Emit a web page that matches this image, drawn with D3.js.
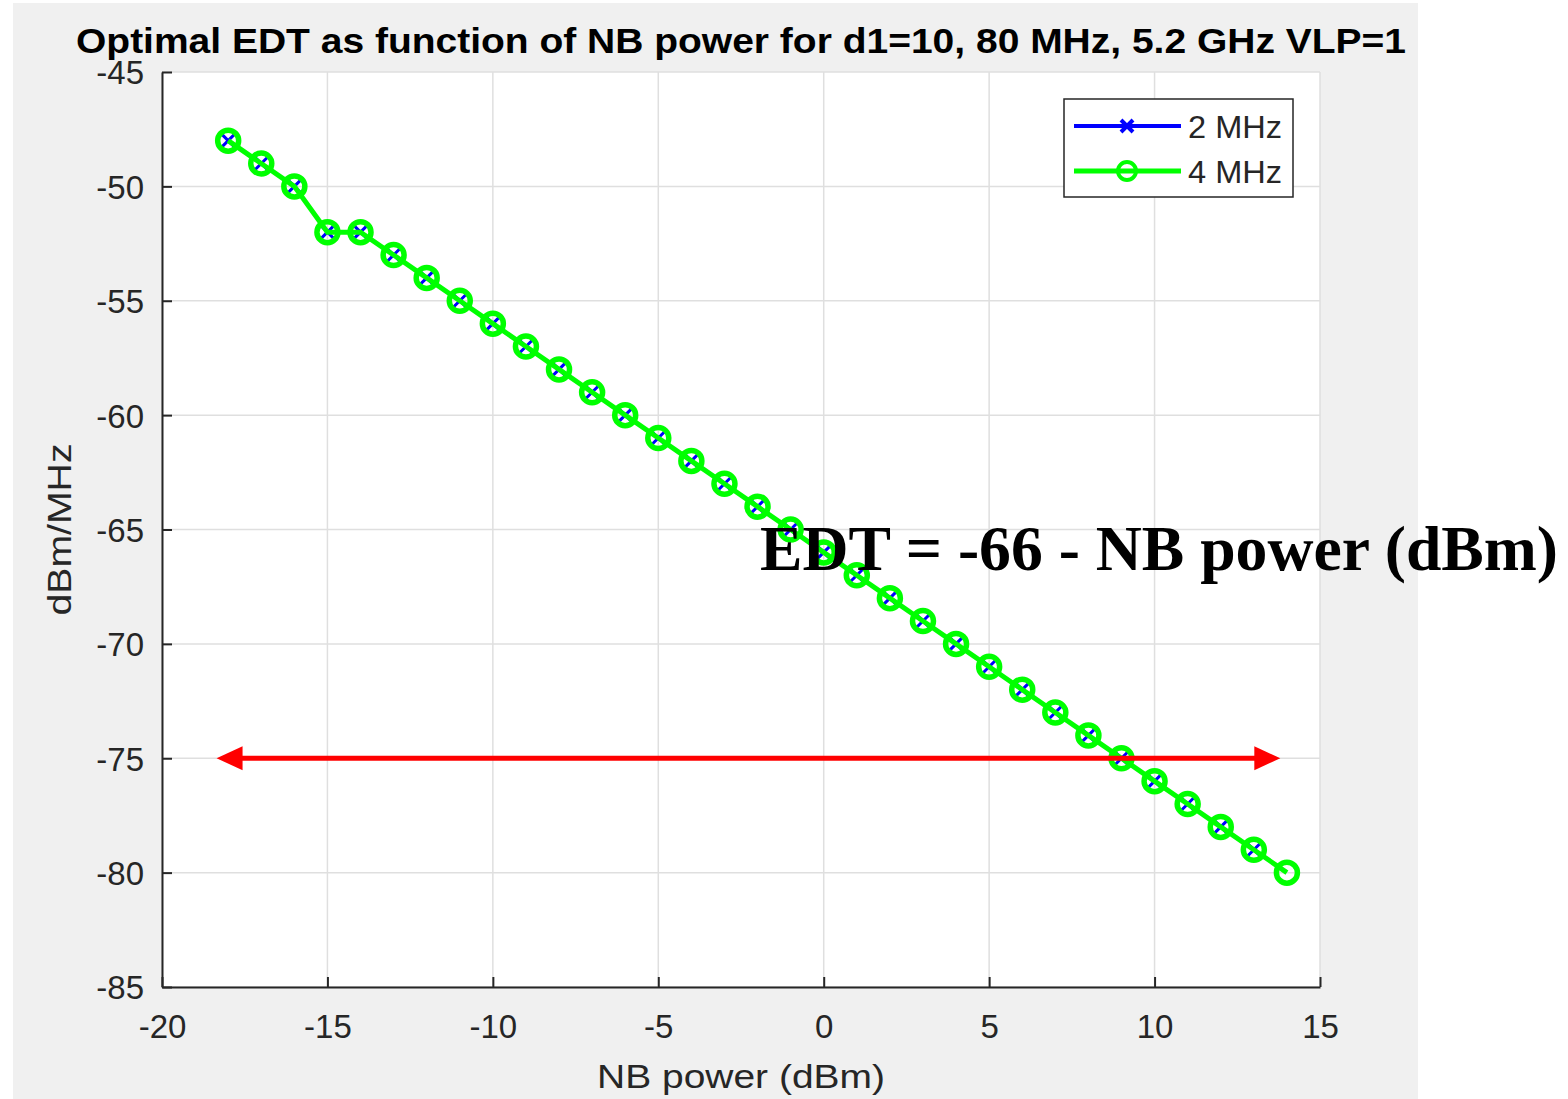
<!DOCTYPE html>
<html>
<head>
<meta charset="utf-8">
<script src="https://cdn.jsdelivr.net/npm/d3@7"></script>
<style>
  html, body { margin: 0; padding: 0; background: #ffffff; }
  svg { display: block; }
</style>
</head>
<body>
<svg id="chart" width="1568" height="1099"></svg>
<script>
// ---- Data ----
const title = "Optimal EDT as function of NB power for d1=10, 80 MHz, 5.2 GHz VLP=1";
const xLabel = "NB power (dBm)";
const yLabel = "dBm/MHz";
const annotationText = "EDT = -66 - NB power (dBm)";

const nbPower2 = [-18,-17,-16,-15,-14,-13,-12,-11,-10,-9,-8,-7,-6,-5,-4,-3,-2,-1,0,1,2,3,4,5,6,7,8,9,10,11,12,13];
const edt2     = [-48,-49,-50,-52,-52,-53,-54,-55,-56,-57,-58,-59,-60,-61,-62,-63,-64,-65,-66,-67,-68,-69,-70,-71,-72,-73,-74,-75,-76,-77,-78,-79];
const nbPower4 = [-18,-17,-16,-15,-14,-13,-12,-11,-10,-9,-8,-7,-6,-5,-4,-3,-2,-1,0,1,2,3,4,5,6,7,8,9,10,11,12,13,14];
const edt4     = [-48,-49,-50,-52,-52,-53,-54,-55,-56,-57,-58,-59,-60,-61,-62,-63,-64,-65,-66,-67,-68,-69,-70,-71,-72,-73,-74,-75,-76,-77,-78,-79,-80];

const xTicks = [-20,-15,-10,-5,0,5,10,15];
const yTicks = [-85,-80,-75,-70,-65,-60,-55,-50,-45];
const seriesNames = ["2 MHz", "4 MHz"];
const arrowX = [-18.35, 13.8];
const arrowY = -75;

// ---- Layout ----
const svg = d3.select("#chart");
const L = 162, R = 1320, T = 72, B = 987;
const axisColor = "#262626";
const font = "'Liberation Sans', Arial, Helvetica, sans-serif";

const x = d3.scaleLinear().domain([-20, 15]).range([L, R]);
const y = d3.scaleLinear().domain([-85, -45]).range([B, T]);

// figure background
svg.append("rect").attr("x", 13).attr("y", 3).attr("width", 1405).attr("height", 1096).attr("fill", "#f0f0f0");
// plot area
svg.append("rect").attr("x", L).attr("y", T).attr("width", R - L).attr("height", B - T).attr("fill", "#ffffff");

// grid
const grid = svg.append("g");
grid.selectAll("line.gx").data(xTicks).enter().append("line")
  .attr("x1", d => x(d)).attr("x2", d => x(d)).attr("y1", T).attr("y2", B)
  .attr("stroke", "#dfdfdf").attr("stroke-width", 1.5);
grid.selectAll("line.gy").data(yTicks).enter().append("line")
  .attr("y1", d => y(d)).attr("y2", d => y(d)).attr("x1", L).attr("x2", R)
  .attr("stroke", "#dfdfdf").attr("stroke-width", 1.5);

// axes
const fmt = d => String(d);
const xAxis = d3.axisBottom(x).tickValues(xTicks).tickSizeInner(-10).tickSizeOuter(0).tickPadding(28).tickFormat(fmt);
const yAxis = d3.axisLeft(y).tickValues(yTicks).tickSizeInner(-10).tickSizeOuter(0).tickPadding(18).tickFormat(fmt);

const gx = svg.append("g").attr("transform", `translate(0,${B})`).call(xAxis);
const gy = svg.append("g").attr("transform", `translate(${L},0)`).call(yAxis);
[gx, gy].forEach(g => {
  g.select(".domain").attr("stroke", axisColor).attr("stroke-width", 2);
  g.selectAll(".tick line").attr("stroke", axisColor).attr("stroke-width", 2);
  g.selectAll(".tick text").attr("fill", axisColor).attr("font-family", font).attr("font-size", 33);
});
gx.selectAll(".tick text").attr("dy", "0.71em");
gy.selectAll(".tick text").attr("dy", "0.36em");

// series 2 MHz (blue, x markers)
const line = d3.line().x(d => x(d[0])).y(d => y(d[1]));
const d2 = nbPower2.map((v, i) => [v, edt2[i]]);
const d4 = nbPower4.map((v, i) => [v, edt4[i]]);

svg.append("path").datum(d2).attr("d", line).attr("fill", "none").attr("stroke", "#0000ff").attr("stroke-width", 3);
const xm = 6;
svg.append("g").selectAll("path").data(d2).enter().append("path")
  .attr("d", d => `M${x(d[0]) - xm},${y(d[1]) - xm}L${x(d[0]) + xm},${y(d[1]) + xm}M${x(d[0]) - xm},${y(d[1]) + xm}L${x(d[0]) + xm},${y(d[1]) - xm}`)
  .attr("stroke", "#0000ff").attr("stroke-width", 3).attr("fill", "none");

// series 4 MHz (green, circle markers)
svg.append("path").datum(d4).attr("d", line).attr("fill", "none").attr("stroke", "#00ff00").attr("stroke-width", 5);
svg.append("g").selectAll("circle").data(d4).enter().append("circle")
  .attr("cx", d => x(d[0])).attr("cy", d => y(d[1])).attr("r", 10.5)
  .attr("fill", "none").attr("stroke", "#00ff00").attr("stroke-width", 5.5);

// red double arrow
const ax1 = x(arrowX[0]), ax2 = x(arrowX[1]), ay = y(arrowY);
const headL = 26, headW = 12;
svg.append("line").attr("x1", ax1 + headL - 2).attr("x2", ax2 - headL + 2).attr("y1", ay).attr("y2", ay)
  .attr("stroke", "#ff0000").attr("stroke-width", 5);
svg.append("path").attr("d", `M${ax1},${ay}L${ax1 + headL},${ay - headW}L${ax1 + headL},${ay + headW}Z`).attr("fill", "#ff0000");
svg.append("path").attr("d", `M${ax2},${ay}L${ax2 - headL},${ay - headW}L${ax2 - headL},${ay + headW}Z`).attr("fill", "#ff0000");

// legend
const lg = svg.append("g");
lg.append("rect").attr("x", 1064).attr("y", 99).attr("width", 229).attr("height", 98)
  .attr("fill", "#ffffff").attr("stroke", axisColor).attr("stroke-width", 1.5);
const rows = [126, 171];
// row 1
lg.append("line").attr("x1", 1074).attr("x2", 1181).attr("y1", rows[0]).attr("y2", rows[0]).attr("stroke", "#0000ff").attr("stroke-width", 4);
lg.append("path").attr("d", `M${1127 - xm},${rows[0] - xm}L${1127 + xm},${rows[0] + xm}M${1127 - xm},${rows[0] + xm}L${1127 + xm},${rows[0] - xm}`)
  .attr("stroke", "#0000ff").attr("stroke-width", 4);
// row 2
lg.append("line").attr("x1", 1074).attr("x2", 1181).attr("y1", rows[1]).attr("y2", rows[1]).attr("stroke", "#00ff00").attr("stroke-width", 5);
lg.append("circle").attr("cx", 1127).attr("cy", rows[1]).attr("r", 9).attr("fill", "none").attr("stroke", "#00ff00").attr("stroke-width", 4);
lg.selectAll("text").data(seriesNames).enter().append("text")
  .attr("x", 1188).attr("y", (d, i) => rows[i]).attr("dy", "0.36em")
  .attr("font-family", font).attr("font-size", 32).attr("fill", axisColor)
  .attr("textLength", 94).attr("lengthAdjust", "spacingAndGlyphs").text(d => d);

// title
svg.append("text").attr("x", (L + R) / 2).attr("y", 53).attr("text-anchor", "middle")
  .attr("font-family", font).attr("font-weight", "bold").attr("font-size", 35).attr("fill", "#000000")
  .attr("textLength", 1330).attr("lengthAdjust", "spacingAndGlyphs")
  .text(title);

// axis labels
svg.append("text").attr("x", (L + R) / 2).attr("y", 1088).attr("text-anchor", "middle")
  .attr("font-family", font).attr("font-size", 33).attr("fill", axisColor)
  .attr("textLength", 288).attr("lengthAdjust", "spacingAndGlyphs").text(xLabel);
svg.append("text").attr("transform", `translate(71,${(T + B) / 2}) rotate(-90)`).attr("text-anchor", "middle")
  .attr("font-family", font).attr("font-size", 33).attr("fill", axisColor)
  .attr("textLength", 172).attr("lengthAdjust", "spacingAndGlyphs").text(yLabel);

// annotation
svg.append("text").attr("x", 760).attr("y", 570)
  .attr("font-family", "'Liberation Serif', 'Times New Roman', serif").attr("font-weight", "bold")
  .attr("font-size", 64).attr("fill", "#000000")
  .attr("textLength", 798).attr("lengthAdjust", "spacingAndGlyphs")
  .text(annotationText);
</script>
</body>
</html>
